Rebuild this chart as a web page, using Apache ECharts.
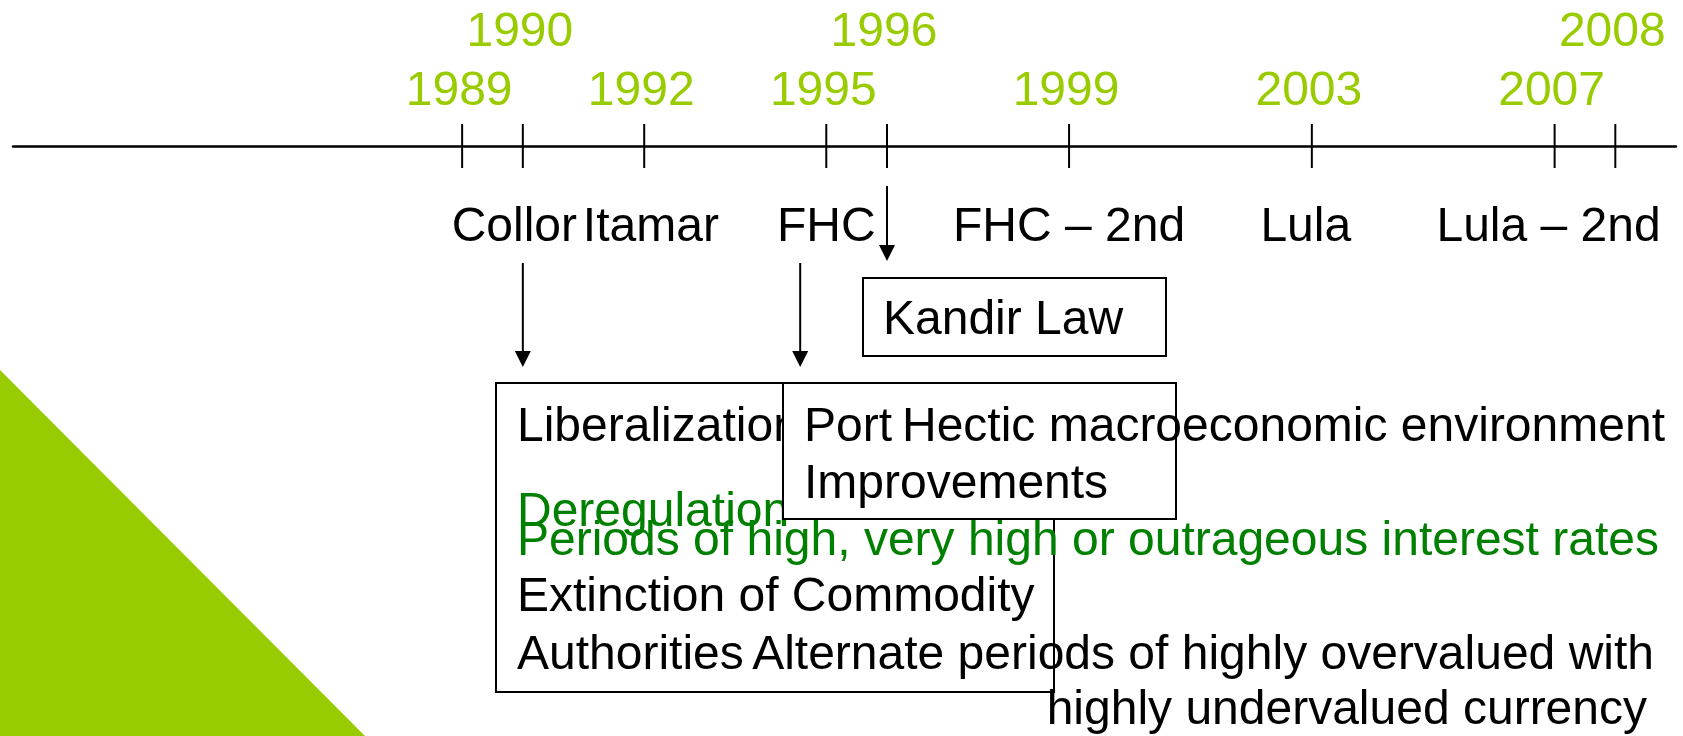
<!DOCTYPE html>
<html>
<head>
<meta charset="utf-8">
<title>Brazil timeline</title>
<script src="https://cdn.jsdelivr.net/npm/echarts@6/dist/echarts.min.js"></script>
<style>
  html, body { margin: 0; padding: 0; background: #fff; }
  #chart { width: 1683px; height: 736px; }
</style>
</head>
<body>
<div id="chart"></div>
<script>
// timeline data
const years = [1989, 1990, 1992, 1995, 1996, 1999, 2003, 2007, 2008];
const upperRowYears = [1990, 1996, 2008];
const presidents = ["Collor", "Itamar", "FHC", "FHC – 2nd", "Lula", "Lula – 2nd"];
const presidentYears = [1989.86, 1992.11, 1995.0, 1999.0, 2002.9, 2006.9];
const arrowYears = [1990, 1994.57, 1996]; // Collor reforms, FHC ports, Kandir Law

// annotation texts
const reformLines = ["Liberalization", "Deregulation", "Extinction of Commodity", "Authorities"];
const portLines = ["Port", "Improvements"];
const kandirLabel = "Kandir Law";
const macroNotes = [
  "Hectic macroeconomic environment",
  "Periods of high, very high or outrageous interest rates",
  "Alternate periods of highly overvalued with",
  "highly undervalued currency",
];

const FONT = "'Liberation Sans', Arial, sans-serif";
const YEAR_GREEN = "#99CC00";
const TEXT_GREEN = "#008000";

const chart = echarts.init(document.getElementById("chart"));

const txt = (text, x, y, opts = {}) => ({
  type: "text",
  x,
  y: y + 3,
  z: opts.z || 10,
  style: {
    text,
    fill: opts.color || "#000",
    font: `48px ${FONT}`,
    align: opts.align || "left",
    verticalAlign: "middle",
  },
});

const box = (x, y, w, h, z) => ({
  type: "rect",
  z,
  shape: { x, y, width: w, height: h },
  style: { fill: "#fff", stroke: "#000", lineWidth: 2 },
});

// arrows: start and end y (px) for each arrowYears entry
const arrowSpans = [
  [263, 367],
  [263, 367],
  [186, 261],
];

const option = {
  animation: false,
  grid: { left: 13, right: 7, top: 146, bottom: 0 },
  xAxis: {
    type: "value",
    position: "top",
    min: 1981.6,
    max: 2009.0,
    axisLine: { show: true, lineStyle: { color: "#000", width: 2.5 } },
    axisTick: { show: false },
    axisLabel: { show: false },
    splitLine: { show: false },
  },
  yAxis: { type: "value", min: 0, max: 590, inverse: true, show: false },
  series: [
    {
      // ticks + year labels
      type: "custom",
      z: 5,
      data: years.map((y) => [y]),
      renderItem: (params, api) => {
        const year = api.value(0);
        const p = api.coord([year, 0]);
        const upper = upperRowYears.includes(year);
        return {
          type: "group",
          children: [
            {
              type: "line",
              shape: { x1: p[0], y1: p[1] - 22, x2: p[0], y2: p[1] + 22 },
              style: { stroke: "#000", lineWidth: 2 },
            },
            {
              type: "text",
              x: p[0] - 3,
              y: p[1] - (upper ? 113 : 54),
              style: {
                text: String(year),
                fill: YEAR_GREEN,
                font: `48px ${FONT}`,
                align: "center",
                verticalAlign: "middle",
              },
            },
          ],
        };
      },
    },
    {
      // president terms under the line
      type: "custom",
      z: 5,
      data: presidentYears.map((y, i) => [y, i]),
      renderItem: (params, api) => {
        const p = api.coord([api.value(0), 0]);
        return {
          type: "text",
          x: p[0],
          y: p[1] + 82,
          style: {
            text: presidents[api.value(1)],
            fill: "#000",
            font: `48px ${FONT}`,
            align: "center",
            verticalAlign: "middle",
          },
        };
      },
    },
    {
      // arrows
      type: "custom",
      z: 5,
      data: arrowYears.map((y, i) => [y, i]),
      renderItem: (params, api) => {
        const x = api.coord([api.value(0), 0])[0];
        const [y0, y1] = arrowSpans[api.value(1)];
        return {
          type: "group",
          children: [
            {
              type: "line",
              shape: { x1: x, y1: y0, x2: x, y2: y1 - 14 },
              style: { stroke: "#000", lineWidth: 2 },
            },
            {
              type: "polygon",
              shape: { points: [[x - 8, y1 - 16], [x + 8, y1 - 16], [x, y1]] },
              style: { fill: "#000" },
            },
          ],
        };
      },
    },
  ],
  graphic: [
    {
      type: "polygon",
      z: 1,
      shape: { points: [[0, 370], [365, 736], [0, 736]] },
      style: { fill: YEAR_GREEN },
    },
    box(863, 278, 303, 78, 2),
    txt(kandirLabel, 883, 318, { z: 3 }),
    box(496, 383, 558, 309, 4),
    txt(reformLines[0], 517, 425, { z: 5 }),
    txt(reformLines[1], 517, 510, { z: 5, color: TEXT_GREEN }),
    txt(reformLines[2], 517, 595, { z: 5 }),
    txt(reformLines[3], 517, 653, { z: 5 }),
    box(783, 383, 393, 136, 6),
    txt(portLines[0], 804, 425, { z: 7 }),
    txt(portLines[1], 804, 482, { z: 7 }),
    txt(macroNotes[0], 902, 425, { z: 8 }),
    txt(macroNotes[1], 517, 539, { z: 8, color: TEXT_GREEN }),
    txt(macroNotes[2], 1654, 653, { z: 8, align: "right" }),
    txt(macroNotes[3], 1647, 708, { z: 8, align: "right" }),
  ],
};

chart.setOption(option);
window.addEventListener("resize", () => chart.resize());
</script>
</body>
</html>
